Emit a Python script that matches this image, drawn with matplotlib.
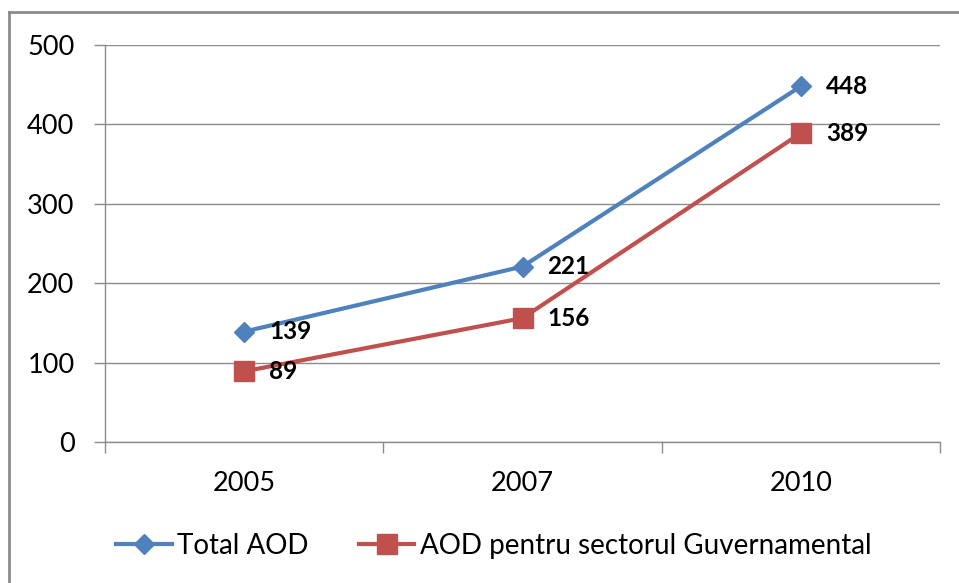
import numpy as np
import matplotlib.pyplot as plt
from matplotlib.lines import Line2D

plt.rcParams['font.family'] = ['Lato', 'DejaVu Sans']

ani = ['2005', '2007', '2010']
total_aod = [139, 221, 448]
aod_guvern = [89, 156, 389]
y_ticks = [0, 100, 200, 300, 400, 500]

albastru = '#4F81BD'
rosu = '#C0504D'
gri = '#8c8c8c'

fig = plt.figure(figsize=(9.59, 5.83), dpi=100)
ax = fig.add_axes([105/959, 1 - 442/583, (940 - 105)/959, (442 - 45)/583])

x = np.arange(len(ani))
ax.plot(x, total_aod, color=albastru, lw=3, marker='D', ms=10, label='Total AOD', zorder=3)
ax.plot(x, aod_guvern, color=rosu, lw=3, marker='s', ms=14, label='AOD pentru sectorul Guvernamental', zorder=3)

for i in range(len(ani)):
    ax.annotate(str(total_aod[i]), (x[i], total_aod[i]), xytext=(18, 0), textcoords='offset points',
                va='center', ha='left', fontsize=17.5, fontweight='bold')
    ax.annotate(str(aod_guvern[i]), (x[i], aod_guvern[i]), xytext=(18, 0), textcoords='offset points',
                va='center', ha='left', fontsize=17.5, fontweight='bold')

ax.set_xlim(-0.5, 2.5)
ax.set_ylim(0, 500)
ax.set_yticks(y_ticks)
ax.set_xticks(x)
ax.set_xticklabels(ani)
ax.set_xticks([-0.5, 0.5, 1.5, 2.5], minor=True)
ax.tick_params(axis='x', which='major', length=0, pad=21, labelsize=19.5)
ax.tick_params(axis='x', which='minor', length=8, width=1, color=gri, direction='out')
ax.tick_params(axis='y', length=8, width=1, color=gri, pad=14, labelsize=19.5)

ax.grid(axis='y', color=gri, lw=1)
ax.set_axisbelow(True)
for s in ['top', 'right']:
    ax.spines[s].set_visible(False)
for s in ['left', 'bottom']:
    ax.spines[s].set_color(gri)
    ax.spines[s].set_linewidth(1)

fig.legend(loc='center', bbox_to_anchor=(0.515, 1 - 546/583), ncol=2, frameon=False,
           fontsize=20, handlelength=2.0, handletextpad=0.2, columnspacing=1.8)

# ramka (doar stanga si sus)
fig.add_artist(Line2D([9/959, 9/959], [0, 1 - 12/583], color=gri, lw=2))
fig.add_artist(Line2D([9/959, 1], [1 - 12/583, 1 - 12/583], color=gri, lw=2))

plt.savefig('out.png', dpi=100)
